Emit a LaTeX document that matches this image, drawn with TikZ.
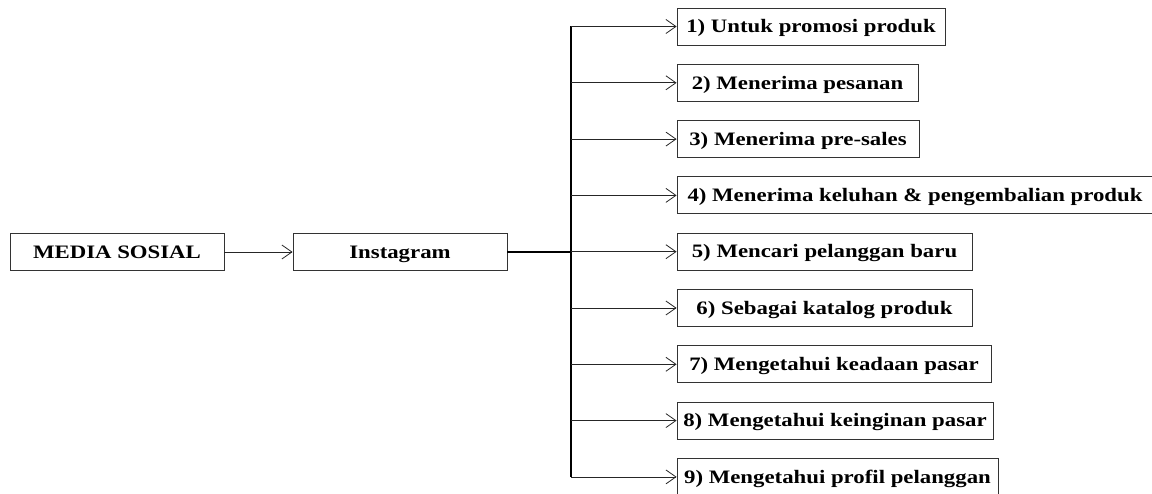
\documentclass[tikz,border=0pt]{standalone}
\usepackage{fontspec}
\setmainfont{Liberation Serif}[FakeStretch=1.2]
\usetikzlibrary{arrows.meta}
\tikzset{
  box/.style={draw=black!80, line width=0.8pt, inner sep=0pt, minimum height=37pt,
    text height=12.5pt, text depth=0pt,
    font=\fontsize{19}{20}\selectfont\bfseries, anchor=center},
  arr/.style={draw=black!85, line width=0.8pt, -{Straight Barb[length=10pt,width=14pt,line width=0.8pt]}},
  trunkline/.style={draw=black, line width=1.5pt}
}
\begin{document}
\begin{tikzpicture}[x=1pt,y=-1pt]
\useasboundingbox (0,0) rectangle (1152,494);
\node[box, minimum width=214pt] (ms) at (117,252) {MEDIA SOSIAL};
\node[box, minimum width=214pt] (ig) at (400,252) {Instagram};
\node[box, minimum width=268pt] (b1) at (811,26.5) {1) Untuk promosi produk};
\node[box, minimum width=241pt] (b2) at (797.5,82.8) {2) Menerima pesanan};
\node[box, minimum width=242pt] (b3) at (798,139.1) {3) Menerima pre-sales};
\node[box, minimum width=480pt] (b4) at (917,195.4) {\hspace*{-2pt}4) Menerima keluhan \& pengembalian produk\hspace*{2pt}};
\node[box, minimum width=295pt] (b5) at (824.5,251.7) {5) Mencari pelanggan baru};
\node[box, minimum width=295pt] (b6) at (824.5,308) {6) Sebagai katalog produk};
\node[box, minimum width=314pt] (b7) at (834,364.3) {7) Mengetahui keadaan pasar};
\node[box, minimum width=316pt] (b8) at (835,420.6) {8) Mengetahui keinginan pasar};
\node[box, minimum width=321pt] (b9) at (837.5,476.9) {9) Mengetahui profil pelanggan};
\coordinate (trunk) at (571,252);
\draw[arr] (ms.east) -- (ig.east -| ig.west);
\draw[trunkline] (ig.east) -- (trunk);
\draw[trunkline] (trunk |- b1.west) -- (trunk |- b9.west);
\foreach \b in {b1,b2,b3,b4,b5,b6,b7,b8,b9}
  \draw[arr] (trunk |- \b.west) -- (\b.west);
\end{tikzpicture}
\end{document}
